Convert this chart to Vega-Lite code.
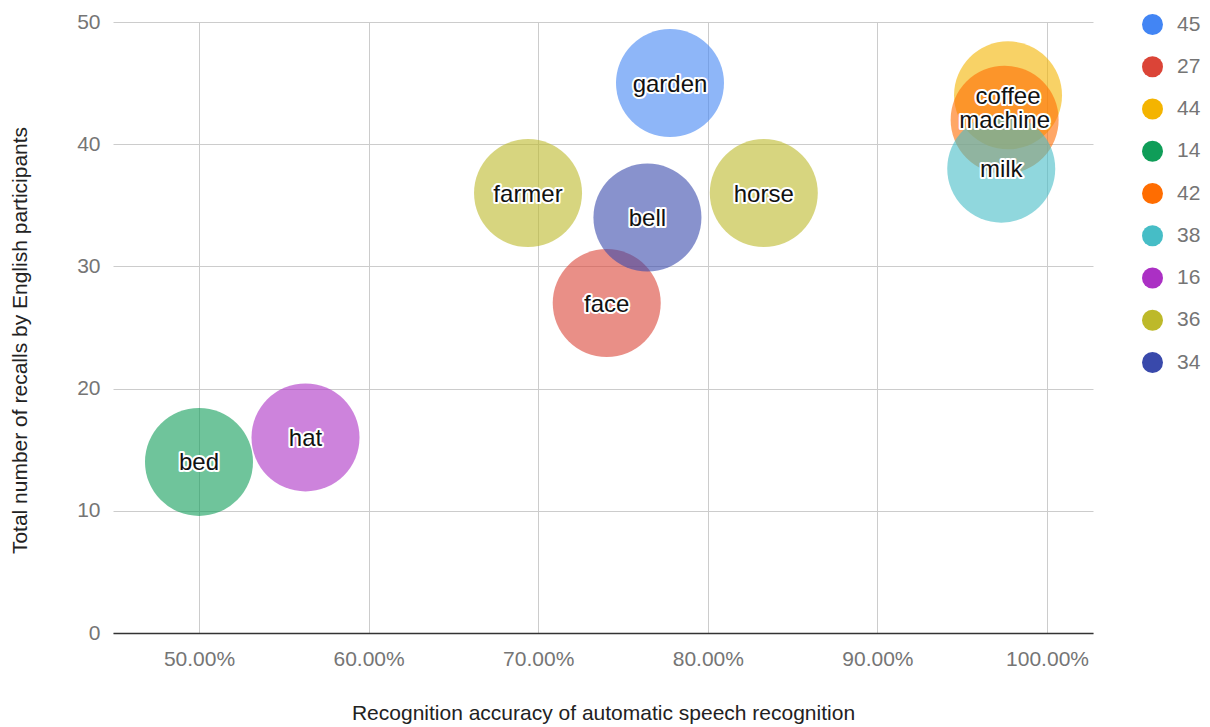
{
  "$schema": "https://vega.github.io/schema/vega-lite/v6.json",
  "width": 980,
  "height": 611,
  "autosize": {"type": "none"},
  "padding": {"left": 113, "top": 22, "right": 117, "bottom": 94},
  "background": "white",
  "config": {"view": {"stroke": null}, "font": "Liberation Sans"},
  "data": {
    "values": [
      {"label": "garden", "series": "45", "accuracy": 0.7777, "recalls": 45},
      {"label": "face", "series": "27", "accuracy": 0.7404, "recalls": 27},
      {"label": "coffee", "series": "44", "accuracy": 0.977, "recalls": 44},
      {"label": "bed", "series": "14", "accuracy": 0.5, "recalls": 14},
      {"label": "machine", "series": "42", "accuracy": 0.975, "recalls": 42},
      {"label": "milk", "series": "38", "accuracy": 0.973, "recalls": 38},
      {"label": "hat", "series": "16", "accuracy": 0.5628, "recalls": 16},
      {"label": "farmer", "series": "36", "accuracy": 0.694, "recalls": 36},
      {"label": "horse", "series": "36", "accuracy": 0.833, "recalls": 36},
      {"label": "bell", "series": "34", "accuracy": 0.7644, "recalls": 34}
    ]
  },
  "encoding": {
    "x": {
      "field": "accuracy",
      "type": "quantitative",
      "scale": {"domain": [0.4493, 1.0271], "nice": false, "zero": false},
      "axis": {
        "title": "Recognition accuracy of automatic speech recognition",
        "values": [0.5, 0.6, 0.7, 0.8, 0.9, 1.0],
        "format": ".2%",
        "grid": true,
        "gridColor": "#cccccc",
        "ticks": false,
        "domain": true,
        "domainColor": "#333333",
        "domainWidth": 1.5,
        "labelFontSize": 21,
        "labelColor": "#757575",
        "labelPadding": 15,
        "titleFontSize": 21,
        "titleFontWeight": "normal",
        "titleColor": "#222222",
        "titleBaseline": "middle",
        "titleY": 80
      }
    },
    "y": {
      "field": "recalls",
      "type": "quantitative",
      "scale": {"domain": [0, 50], "nice": false},
      "axis": {
        "title": "Total number of recalls by English participants",
        "values": [0, 10, 20, 30, 40, 50],
        "grid": true,
        "gridColor": "#cccccc",
        "ticks": false,
        "domain": false,
        "labelFontSize": 21,
        "labelColor": "#757575",
        "labelPadding": 13,
        "titleFontSize": 21,
        "titleFontWeight": "normal",
        "titleColor": "#222222",
        "titleBaseline": "middle",
        "titleX": -93,
        "titleY": 318
      }
    }
  },
  "layer": [
    {
      "mark": {"type": "point", "shape": "circle", "filled": true, "opacity": 0.6, "size": 11664, "strokeWidth": 0},
      "encoding": {
        "color": {
          "field": "series",
          "type": "nominal",
          "scale": {
            "domain": ["45", "27", "44", "14", "42", "38", "16", "36", "34"],
            "range": ["#4285f4", "#db4437", "#f4b400", "#0f9d58", "#ff6d01", "#46bdc6", "#ab30c4", "#bdb92a", "#3949ab"]
          },
          "legend": {
            "title": null,
            "orient": "none",
            "legendX": 1029,
            "legendY": -8,
            "padding": 0,
            "symbolType": "circle",
            "symbolSize": 441,
            "symbolOpacity": 1,
            "symbolStrokeWidth": 0,
            "labelFontSize": 21,
            "labelColor": "#757575",
            "labelOffset": 14,
            "rowPadding": 20.25
          }
        }
      }
    },
    {
      "mark": {"type": "text", "fontSize": 24, "fill": "white", "stroke": "white", "strokeWidth": 4, "strokeJoin": "round", "baseline": "middle", "dy": 1.5},
      "encoding": {"text": {"field": "label"}}
    },
    {
      "mark": {"type": "text", "fontSize": 24, "fill": "#111111", "baseline": "middle", "dy": 1.5},
      "encoding": {"text": {"field": "label"}}
    }
  ]
}
